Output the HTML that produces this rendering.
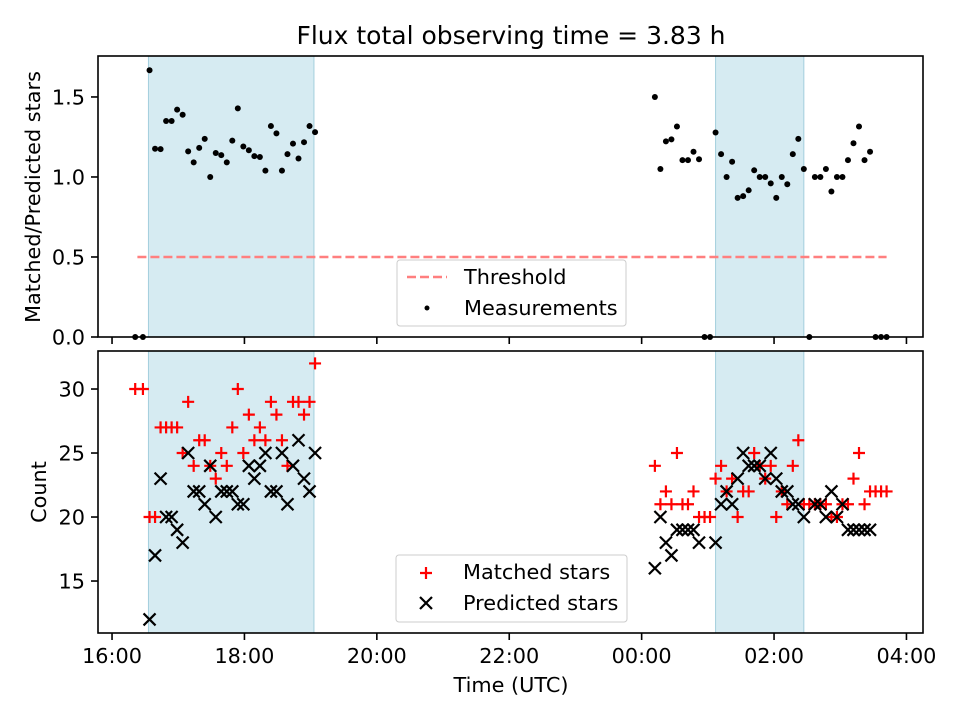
<!DOCTYPE html>
<html><head><meta charset="utf-8"><style>
body{margin:0;background:#fff;}
svg{display:block;font-family:"DejaVu Sans","Liberation Sans",sans-serif;}
</style></head><body>
<svg id="chart" width="960" height="720" viewBox="0 0 960 720" xmlns="http://www.w3.org/2000/svg">
<rect width="960" height="720" fill="#fff"/>
<text x="511" y="44" font-size="25" text-anchor="middle">Flux total observing time = 3.83 h</text>
<g id="topPanel"></g><g id="botPanel"></g>
<text transform="translate(40,197) rotate(-90)" font-size="20.8" text-anchor="middle">Matched/Predicted stars</text>
<text transform="translate(46,492) rotate(-90)" font-size="20.8" text-anchor="middle">Count</text>
<text x="511" y="692" font-size="20.8" text-anchor="middle">Time (UTC)</text>
</svg>
<script>
// ---- data ----
const times1 = ["16:21","16:28","16:34","16:39","16:44","16:49","16:54","16:59","17:04","17:09","17:14","17:19","17:24","17:29","17:34","17:39","17:44","17:49","17:54","17:59","18:04","18:09","18:14","18:19","18:24","18:29","18:34","18:39","18:44","18:49","18:54","18:59","19:04"];
const matched1 = [30,30,20,20,27,27,27,27,25,29,24,26,26,24,23,25,24,27,30,25,28,26,27,26,29,28,26,24,29,29,28,29,32];
const predicted1 = [null,null,12,17,23,20,20,19,18,25,22,22,21,24,20,22,22,22,21,21,24,23,24,25,22,22,25,21,24,26,23,22,25];
const times2 = ["00:12","00:17","00:22","00:27","00:32","00:37","00:42","00:47","00:52","00:57","01:02","01:07","01:12","01:17","01:22","01:27","01:32","01:37","01:42","01:47","01:52","01:57","02:02","02:07","02:12","02:17","02:22","02:27","02:32","02:37","02:42","02:47","02:52","02:57","03:02","03:07","03:12","03:17","03:22","03:27","03:32","03:37","03:42"];
const matched2 = [24,21,22,21,25,21,21,22,20,20,20,23,24,22,23,20,22,22,25,24,23,24,20,22,21,24,26,21,21,21,21,21,20,20,21,21,23,25,21,22,22,22,22];
const predicted2 = [16,20,18,17,19,19,19,19,18,null,null,18,21,22,21,23,25,24,24,24,23,25,23,22,22,21,21,20,null,21,21,20,22,20,21,19,19,19,19,19,null,null,null];
const observingWindows = [["16:33","19:03"],["01:07","02:27"]];
const thresholdValue = 0.5;
const thresholdSpan = ["16:23","03:42"];
const xTickLabels = ["16:00","18:00","20:00","22:00","00:00","02:00","04:00"];
const topTicks = [0.0,0.5,1.0,1.5];
const botTicks = [15,20,25,30];

// ---- helpers ----
const NS="http://www.w3.org/2000/svg";
function hrs(s){let [h,m]=s.split(":").map(Number);if(h<12)h+=24;return (h-16)+m/60;}
const X0=98,X1=923,T0=-0.212,T1=12.25;
function xs(s){return X0+(hrs(s)-T0)/(T1-T0)*(X1-X0);}
const axTop={y0:56,y1:337,v0:0,v1:1.756};
const axBot={y0:351,y1:633,v0:10.94,v1:32.97};
function ys(ax,v){return ax.y1-(v-ax.v0)/(ax.v1-ax.v0)*(ax.y1-ax.y0);}
function mk(parent,tag,attrs,text){const e=document.createElementNS(NS,tag);for(const k in attrs)e.setAttribute(k,attrs[k]);if(text!==undefined)e.textContent=text;parent.appendChild(e);return e;}
const allTimes=times1.concat(times2), allMatched=matched1.concat(matched2), allPredicted=predicted1.concat(predicted2);

function axesFrame(g,ax,ticks,fmt,showLabels,name){
  observingWindows.forEach(w=>{
    const r=mk(g,"rect",{x:xs(w[0]),y:ax.y0,width:xs(w[1])-xs(w[0]),height:ax.y1-ax.y0,fill:"#add8e6","fill-opacity":"0.5",stroke:"#a3cfdd","stroke-width":"1"});
    
    
  });
  ticks.forEach(v=>{
    const y=ys(ax,v);
    mk(g,"line",{x1:X0-7,x2:X0,y1:y,y2:y,stroke:"#000","stroke-width":"1.6"});
    const t=mk(g,"text",{x:X0-13,y:y+7.6,"font-size":"20.8","text-anchor":"end"},fmt(v));
    
    
  });
  xTickLabels.forEach(s=>{
    const x=xs(s);
    mk(g,"line",{x1:x,x2:x,y1:ax.y1,y2:ax.y1+7,stroke:"#000","stroke-width":"1.6"});
    if(showLabels){
      const t=mk(g,"text",{x:x,y:ax.y1+30,"font-size":"20.8","text-anchor":"middle"},s);
      
      
    }
  });
}
function frame(g,ax,name){
  const r=mk(g,"rect",{x:X0,y:ax.y0,width:X1-X0,height:ax.y1-ax.y0,fill:"none",stroke:"#000","stroke-width":"1.6"});
  
  
}
function plus(g,x,y){return mk(g,"path",{d:`M${x-6},${y}H${x+6}M${x},${y-6}V${y+6}`,stroke:"#ff0000","stroke-width":"2.2",fill:"none"});}
function cross(g,x,y){return mk(g,"path",{d:`M${x-6},${y-6}L${x+6},${y+6}M${x-6},${y+6}L${x+6},${y-6}`,stroke:"#000","stroke-width":"2.2",fill:"none"});}

// ---- top panel ----
const gt=document.getElementById("topPanel");
axesFrame(gt,axTop,topTicks,v=>v.toFixed(1),false,"top");
const th=mk(gt,"line",{x1:xs(thresholdSpan[0]),x2:xs(thresholdSpan[1]),y1:ys(axTop,thresholdValue),y2:ys(axTop,thresholdValue),stroke:"#ff7f7f","stroke-width":"2.5","stroke-dasharray":"9,4"});


allTimes.forEach((s,i)=>{
  const r=allPredicted[i]?allMatched[i]/allPredicted[i]:0;
  const c=mk(gt,"circle",{cx:xs(s),cy:ys(axTop,r),r:"3",fill:"#000"});
  
  
});
frame(gt,axTop,"top");
const lt=mk(gt,"g",{});


mk(lt,"rect",{x:397,y:260,width:229,height:66,rx:3,fill:"#fff","fill-opacity":"0.8",stroke:"#ccc"});
mk(lt,"line",{x1:407,x2:447,y1:277,y2:277,stroke:"#ff7f7f","stroke-width":"2.5","stroke-dasharray":"9,4"});
const lt1=mk(lt,"text",{x:464,y:284,"font-size":"20.8"},"Threshold");


mk(lt,"circle",{cx:427,cy:308,r:"2.5",fill:"#000"});
const lt2=mk(lt,"text",{x:464,y:315,"font-size":"20.8"},"Measurements");



// ---- bottom panel ----
const gb=document.getElementById("botPanel");
axesFrame(gb,axBot,botTicks,v=>String(v),true,"bottom");
allTimes.forEach((s,i)=>{
  const p=plus(gb,xs(s),ys(axBot,allMatched[i]));
  
  
});
allTimes.forEach((s,i)=>{
  if(allPredicted[i]==null)return;
  const p=cross(gb,xs(s),ys(axBot,allPredicted[i]));
  
  
});
frame(gb,axBot,"bottom");
const lb=mk(gb,"g",{});


mk(lb,"rect",{x:396,y:555,width:231,height:67,rx:3,fill:"#fff","fill-opacity":"0.8",stroke:"#ccc"});
plus(lb,426,573);
const lb1=mk(lb,"text",{x:463,y:579,"font-size":"20.8"},"Matched stars");


cross(lb,426,603);
const lb2=mk(lb,"text",{x:463,y:610,"font-size":"20.8"},"Predicted stars");


</script>
</body></html>
